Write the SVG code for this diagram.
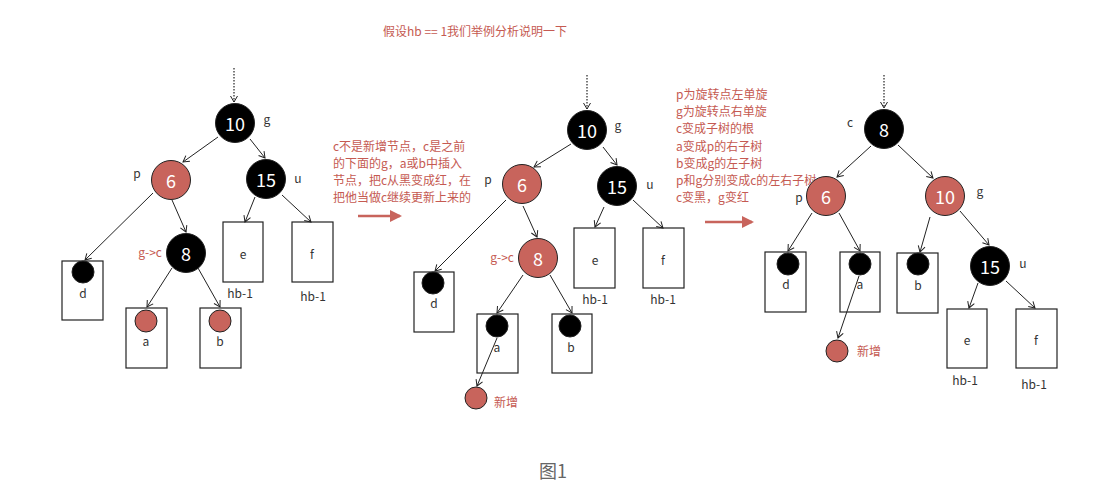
<svg xmlns="http://www.w3.org/2000/svg" width="1115" height="493" viewBox="0 0 1115 493">
<style>
text{font-family:"Noto Sans CJK SC","Noto Sans",sans-serif}
.blk{fill:#000;stroke:#222;stroke-width:1}
.red{fill:#c8645c;stroke:#222;stroke-width:1}
.num{fill:#fff;font-size:18px;text-anchor:middle;dominant-baseline:central}
.lbl{fill:#333;font-size:12px;text-anchor:middle;dominant-baseline:central}
.box{fill:#fff;stroke:#222;stroke-width:1.2}
.note{fill:#c55a52;font-size:12px}
.edge{stroke:#222;stroke-width:1;fill:none;marker-end:url(#ah)}
.dot{stroke:#222;stroke-width:1.2;fill:none;stroke-dasharray:1.5 1.5;marker-end:url(#ah)}
.big{stroke:#c8645c;stroke-width:2.5;fill:none}
</style>
<defs>
<marker id="ah" markerWidth="9" markerHeight="9" refX="7" refY="4.5" orient="auto" markerUnits="userSpaceOnUse">
<path d="M1,1 L7,4.5 L1,8" fill="none" stroke="#222" stroke-width="1"/>
</marker>
<marker id="rh" markerWidth="12" markerHeight="12" refX="10" refY="6" orient="auto" markerUnits="userSpaceOnUse">
<path d="M0,0 L12,6 L0,12 Z" fill="#c8645c"/>
</marker>
</defs>
<rect width="1115" height="493" fill="#fff"/>

<text class="note" x="383" y="36">假设hb == 1我们举例分析说明一下</text>

<g id="note1" class="note">
<text x="333" y="151">c不是新增节点，c是之前</text>
<text x="333" y="168">的下面的g，a或b中插入</text>
<text x="333" y="185">节点，把c从黑变成红，在</text>
<text x="333" y="202">把他当做c继续更新上来的</text>
</g>
<g id="note2" class="note">
<text x="676" y="99">p为旋转点左单旋</text>
<text x="676" y="116">g为旋转点右单旋</text>
<text x="676" y="133">c变成子树的根</text>
<text x="676" y="151">a变成p的右子树</text>
<text x="676" y="168">b变成g的左子树</text>
<text x="676" y="185">p和g分别变成c的左右子树</text>
<text x="676" y="202">c变黑，g变红</text>
</g>

<!-- Tree 1 -->
<g id="t1-g"><circle class="blk" cx="235" cy="123" r="19.5"/><text class="num" x="235" y="123">10</text><text class="lbl" x="267" y="118">g</text></g>
<g id="t1-p"><circle class="red" cx="171" cy="180" r="19.5"/><text class="num" x="171" y="180">6</text><text class="lbl" x="137" y="172">p</text></g>
<g id="t1-u"><circle class="blk" cx="266" cy="179" r="19.5"/><text class="num" x="266" y="179">15</text><text class="lbl" x="298" y="177">u</text></g>
<g id="t1-c"><circle class="blk" cx="186" cy="253" r="19.5"/><text class="num" x="186" y="253">8</text><text class="note" x="162" y="257" text-anchor="end">g-&gt;c</text></g>
<g id="t1-d"><rect class="box" x="62" y="261" width="41" height="59"/><circle class="blk" cx="83" cy="272" r="11"/><text class="lbl" x="83" y="292">d</text></g>
<g id="t1-a"><rect class="box" x="126" y="308" width="41" height="60"/><circle class="red" cx="146" cy="321" r="11"/><text class="lbl" x="146" y="340">a</text></g>
<g id="t1-b"><rect class="box" x="200" y="308" width="41" height="60"/><circle class="red" cx="220" cy="321" r="11"/><text class="lbl" x="220" y="340">b</text></g>
<g id="t1-e"><rect class="box" x="223" y="222" width="40" height="60"/><text class="lbl" x="243" y="253">e</text><text class="lbl" x="240" y="292">hb-1</text></g>
<g id="t1-f"><rect class="box" x="292" y="222" width="41" height="60"/><text class="lbl" x="312" y="253">f</text><text class="lbl" x="313" y="295">hb-1</text></g>

<!-- Tree 2 -->
<g id="t2-g"><circle class="blk" cx="587" cy="130" r="19.5"/><text class="num" x="587" y="130">10</text><text class="lbl" x="618" y="124">g</text></g>
<g id="t2-p"><circle class="red" cx="522" cy="184" r="19.5"/><text class="num" x="522" y="184">6</text><text class="lbl" x="488" y="178">p</text></g>
<g id="t2-u"><circle class="blk" cx="617" cy="186" r="19.5"/><text class="num" x="617" y="186">15</text><text class="lbl" x="650" y="183">u</text></g>
<g id="t2-c"><circle class="red" cx="538" cy="258" r="19.5"/><text class="num" x="538" y="258">8</text><text class="note" x="514" y="262" text-anchor="end">g-&gt;c</text></g>
<g id="t2-d"><rect class="box" x="414" y="272" width="40" height="60"/><circle class="blk" cx="433" cy="283" r="11"/><text class="lbl" x="434" y="302">d</text></g>
<g id="t2-a"><rect class="box" x="477" y="314" width="41" height="59"/><circle class="blk" cx="497" cy="326" r="11"/><text class="lbl" x="497" y="346">a</text></g>
<g id="t2-b"><rect class="box" x="552" y="314" width="40" height="59"/><circle class="blk" cx="570" cy="326" r="11"/><text class="lbl" x="571" y="346">b</text></g>
<g id="t2-e"><rect class="box" x="574" y="228" width="41" height="60"/><text class="lbl" x="595" y="259">e</text><text class="lbl" x="595" y="298">hb-1</text></g>
<g id="t2-f"><rect class="box" x="643" y="228" width="41" height="60"/><text class="lbl" x="663" y="259">f</text><text class="lbl" x="663" y="298">hb-1</text></g>
<g id="t2-new"><circle class="red" cx="476" cy="398" r="11"/><text class="note" x="494" y="407">新增</text></g>

<!-- Tree 3 -->
<g id="t3-c"><circle class="blk" cx="884" cy="129" r="19.5"/><text class="num" x="884" y="129">8</text><text class="lbl" x="850" y="121">c</text></g>
<g id="t3-p"><circle class="red" cx="826" cy="196" r="19.5"/><text class="num" x="826" y="196">6</text><text class="lbl" x="799" y="196">p</text></g>
<g id="t3-g"><circle class="red" cx="945" cy="196" r="19.5"/><text class="num" x="945" y="196">10</text><text class="lbl" x="980" y="190">g</text></g>
<g id="t3-d"><rect class="box" x="765" y="252" width="41" height="60"/><circle class="blk" cx="788" cy="264" r="11"/><text class="lbl" x="786" y="283">d</text></g>
<g id="t3-a"><rect class="box" x="840" y="252" width="40" height="60"/><circle class="blk" cx="860" cy="264" r="11"/><text class="lbl" x="860" y="283">a</text></g>
<g id="t3-b"><rect class="box" x="897" y="253" width="41" height="60"/><circle class="blk" cx="918" cy="264" r="11"/><text class="lbl" x="918" y="284">b</text></g>
<g id="t3-u"><circle class="blk" cx="990" cy="266" r="19.5"/><text class="num" x="990" y="266">15</text><text class="lbl" x="1023" y="262">u</text></g>
<g id="t3-e"><rect class="box" x="947" y="309" width="40" height="59"/><text class="lbl" x="967" y="339">e</text><text class="lbl" x="965" y="379">hb-1</text></g>
<g id="t3-f"><rect class="box" x="1016" y="309" width="41" height="59"/><text class="lbl" x="1036" y="339">f</text><text class="lbl" x="1034" y="383">hb-1</text></g>
<g id="t3-new"><circle class="red" cx="837" cy="351" r="11"/><text class="note" x="857" y="356">新增</text></g>

<g id="connectors">
<!-- tree 1 -->
<line class="dot" x1="234" y1="68" x2="234" y2="102"/>
<line class="edge" x1="218" y1="137" x2="183" y2="162"/>
<line class="edge" x1="250" y1="139" x2="265" y2="158"/>
<line class="edge" x1="153" y1="193" x2="85" y2="260"/>
<line class="edge" x1="172" y1="200" x2="186" y2="232"/>
<line class="edge" x1="172" y1="268" x2="147" y2="307"/>
<line class="edge" x1="198" y1="268" x2="220" y2="307"/>
<line class="edge" x1="255" y1="197" x2="245" y2="222"/>
<line class="edge" x1="282" y1="195" x2="311" y2="222"/>
<!-- tree 2 -->
<line class="dot" x1="587" y1="75" x2="587" y2="109"/>
<line class="edge" x1="571" y1="144" x2="534" y2="167"/>
<line class="edge" x1="603" y1="147" x2="617" y2="165"/>
<line class="edge" x1="506" y1="200" x2="435" y2="271"/>
<line class="edge" x1="523" y1="206" x2="537" y2="237"/>
<line class="edge" x1="523" y1="275" x2="497" y2="313"/>
<line class="edge" x1="550" y1="275" x2="572" y2="313"/>
<line class="edge" x1="604" y1="207" x2="595" y2="227"/>
<line class="edge" x1="633" y1="200" x2="663" y2="228"/>
<line class="edge" x1="497" y1="338" x2="477" y2="386"/>
<!-- tree 3 -->
<line class="dot" x1="884" y1="75" x2="884" y2="108"/>
<line class="edge" x1="871" y1="146" x2="837" y2="177"/>
<line class="edge" x1="898" y1="145" x2="933" y2="178"/>
<line class="edge" x1="812" y1="213" x2="788" y2="251"/>
<line class="edge" x1="839" y1="213" x2="860" y2="251"/>
<line class="edge" x1="930" y1="217" x2="920" y2="252"/>
<line class="edge" x1="960" y1="211" x2="989" y2="245"/>
<line class="edge" x1="978" y1="283" x2="969" y2="308"/>
<line class="edge" x1="1006" y1="281" x2="1035" y2="308"/>
<line class="edge" x1="859" y1="276" x2="838" y2="338"/>
<!-- big arrows -->
<line class="big" x1="358" y1="216" x2="400" y2="216" marker-end="url(#rh)"/>
<line class="big" x1="705" y1="222" x2="752" y2="222" marker-end="url(#rh)"/>
</g>

<text x="553" y="478" font-size="18" fill="#666" text-anchor="middle">图1</text>
</svg>
